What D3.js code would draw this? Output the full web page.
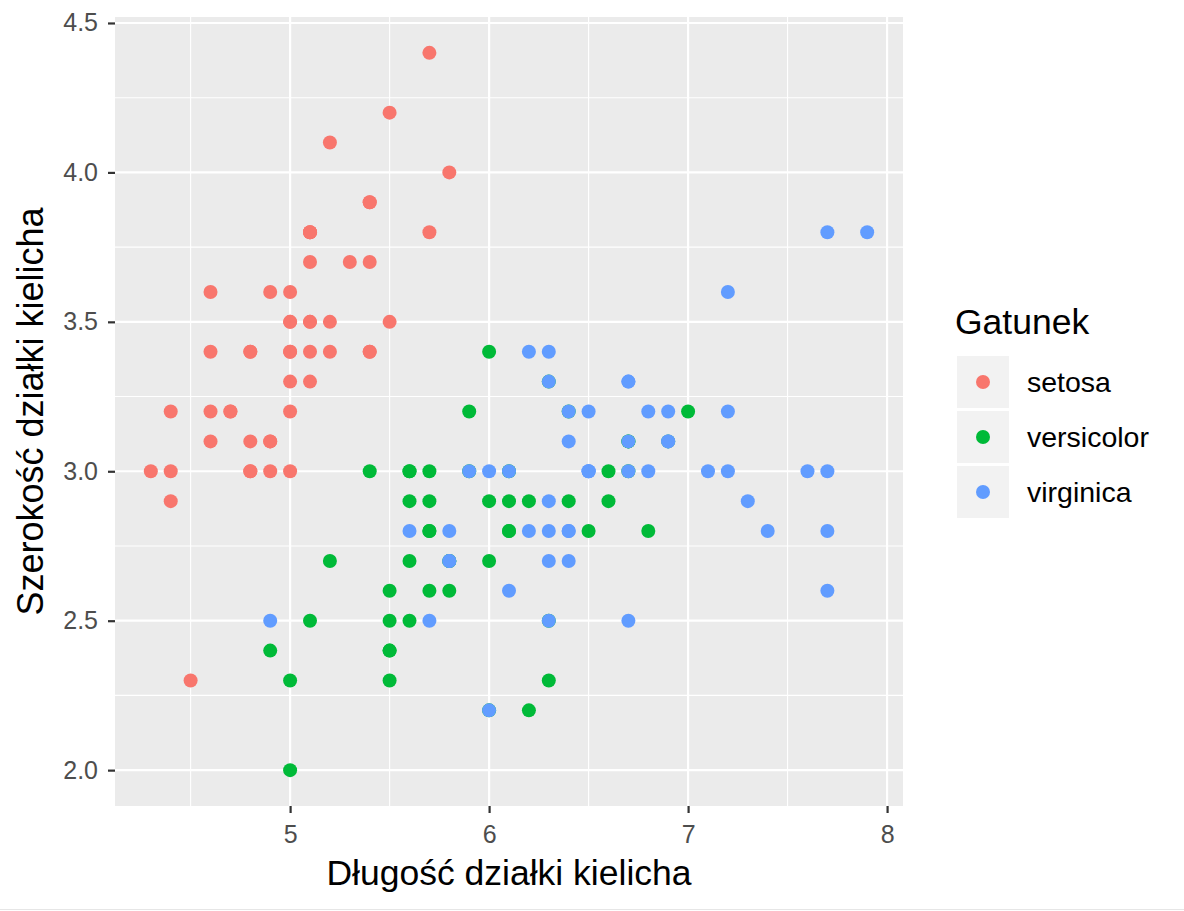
<!DOCTYPE html>
<html>
<head>
<meta charset="utf-8">
<script src="https://cdn.jsdelivr.net/npm/d3@7"></script>
<style>
  body { margin: 0; background: #fff; }
  text { font-family: "Liberation Sans", Arial, sans-serif; }
</style>
</head>
<body>
<script>
// iris: sepal length / sepal width per species
const species = ["setosa", "versicolor", "virginica"];
const colors = ["#F8766D", "#00BA38", "#619CFF"];

const setosaLength = [5.1,4.9,4.7,4.6,5.0,5.4,4.6,5.0,4.4,4.9,5.4,4.8,4.8,4.3,5.8,5.7,5.4,5.1,5.7,5.1,5.4,5.1,4.6,5.1,4.8,5.0,5.0,5.2,5.2,4.7,4.8,5.4,5.2,5.5,4.9,5.0,5.5,4.9,4.4,5.1,5.0,4.5,4.4,5.0,5.1,4.8,5.1,4.6,5.3,5.0];
const setosaWidth = [3.5,3.0,3.2,3.1,3.6,3.9,3.4,3.4,2.9,3.1,3.7,3.4,3.0,3.0,4.0,4.4,3.9,3.5,3.8,3.8,3.4,3.7,3.6,3.3,3.4,3.0,3.4,3.5,3.4,3.2,3.1,3.4,4.1,4.2,3.1,3.2,3.5,3.6,3.0,3.4,3.5,2.3,3.2,3.5,3.8,3.0,3.8,3.2,3.7,3.3];

const versicolorLength = [7.0,6.4,6.9,5.5,6.5,5.7,6.3,4.9,6.6,5.2,5.0,5.9,6.0,6.1,5.6,6.7,5.6,5.8,6.2,5.6,5.9,6.1,6.3,6.1,6.4,6.6,6.8,6.7,6.0,5.7,5.5,5.5,5.8,6.0,5.4,6.0,6.7,6.3,5.6,5.5,5.5,6.1,5.8,5.0,5.6,5.7,5.7,6.2,5.1,5.7];
const versicolorWidth = [3.2,3.2,3.1,2.3,2.8,2.8,3.3,2.4,2.9,2.7,2.0,3.0,2.2,2.9,2.9,3.1,3.0,2.7,2.2,2.5,3.2,2.8,2.5,2.8,2.9,3.0,2.8,3.0,2.9,2.6,2.4,2.4,2.7,2.7,3.0,3.4,3.1,2.3,3.0,2.5,2.6,3.0,2.6,2.3,2.7,3.0,2.9,2.9,2.5,2.8];

const virginicaLength = [6.3,5.8,7.1,6.3,6.5,7.6,4.9,7.3,6.7,7.2,6.5,6.4,6.8,5.7,5.8,6.4,6.5,7.7,7.7,6.0,6.9,5.6,7.7,6.3,6.7,7.2,6.2,6.1,6.4,7.2,7.4,7.9,6.4,6.3,6.1,7.7,6.3,6.4,6.0,6.9,6.7,6.9,5.8,6.8,6.7,6.7,6.3,6.5,6.2,5.9];
const virginicaWidth = [3.3,2.7,3.0,2.9,3.0,3.0,2.5,2.9,2.5,3.6,3.2,2.7,3.0,2.5,2.8,3.2,3.0,3.8,2.6,2.2,3.2,2.8,2.8,2.7,3.3,3.2,2.8,3.0,2.8,3.0,2.8,3.8,2.8,2.8,2.6,3.0,3.4,3.1,3.0,3.1,3.1,3.1,2.7,3.2,3.3,3.0,2.5,3.0,3.4,3.0];

const xTicks = [5, 6, 7, 8];
const xMinor = [4.5, 5.5, 6.5, 7.5];
const yTicks = [2.0, 2.5, 3.0, 3.5, 4.0, 4.5];
const yMinor = [2.25, 2.75, 3.25, 3.75, 4.25];

const xTitle = "Długość działki kielicha";
const yTitle = "Szerokość działki kielicha";
const legendTitle = "Gatunek";

const lengths = [setosaLength, versicolorLength, virginicaLength];
const widths = [setosaWidth, versicolorWidth, virginicaWidth];

let points = [];
species.forEach((s, i) => {
  lengths[i].forEach((v, j) => {
    points.push({species: s, x: v, y: widths[i][j]});
  });
});

const W = 1184, H = 911;
const panel = {left: 115, right: 903, top: 17, bottom: 806};

const svg = d3.select("body").append("svg")
  .attr("width", W)
  .attr("height", H);

const x = d3.scaleLinear().domain([4.12, 8.08]).range([panel.left, panel.right]);
const y = d3.scaleLinear().domain([1.88, 4.52]).range([panel.bottom, panel.top]);
const color = d3.scaleOrdinal().domain(species).range(colors);

// panel background
svg.append("rect")
  .attr("x", panel.left).attr("y", panel.top)
  .attr("width", panel.right - panel.left)
  .attr("height", panel.bottom - panel.top)
  .attr("fill", "#EBEBEB");

const grid = svg.append("g");
grid.selectAll(".xminor").data(xMinor).join("line")
  .attr("x1", d => x(d)).attr("x2", d => x(d))
  .attr("y1", panel.top).attr("y2", panel.bottom)
  .attr("stroke", "#fff").attr("stroke-width", 1.1);
grid.selectAll(".yminor").data(yMinor).join("line")
  .attr("y1", d => y(d)).attr("y2", d => y(d))
  .attr("x1", panel.left).attr("x2", panel.right)
  .attr("stroke", "#fff").attr("stroke-width", 1.1);
grid.selectAll(".xmajor").data(xTicks).join("line")
  .attr("x1", d => x(d)).attr("x2", d => x(d))
  .attr("y1", panel.top).attr("y2", panel.bottom)
  .attr("stroke", "#fff").attr("stroke-width", 2.2);
grid.selectAll(".ymajor").data(yTicks).join("line")
  .attr("y1", d => y(d)).attr("y2", d => y(d))
  .attr("x1", panel.left).attr("x2", panel.right)
  .attr("stroke", "#fff").attr("stroke-width", 2.2);

// points
svg.append("g").selectAll("circle")
  .data(points)
  .join("circle")
  .attr("cx", d => x(d.x))
  .attr("cy", d => y(d.y))
  .attr("r", 7)
  .attr("fill", d => color(d.species));

// axes
const xAxis = d3.axisBottom(x).tickValues(xTicks).tickFormat(d3.format("d")).tickSize(7).tickPadding(12);
const yAxis = d3.axisLeft(y).tickValues(yTicks).tickFormat(d3.format(".1f")).tickSize(7).tickPadding(10);

const gx = svg.append("g")
  .attr("transform", `translate(0, ${panel.bottom})`)
  .call(xAxis);
const gy = svg.append("g")
  .attr("transform", `translate(${panel.left}, 0)`)
  .call(yAxis);

[gx, gy].forEach(g => {
  g.select(".domain").remove();
  g.selectAll(".tick line").attr("stroke", "#333").attr("stroke-width", 2.2);
  g.selectAll(".tick text")
    .attr("fill", "#4D4D4D")
    .style("font-size", "25px")
    .style("font-family", "'Liberation Sans', Arial, sans-serif");
});

svg.append("text")
  .attr("x", (panel.left + panel.right) / 2)
  .attr("y", 885)
  .attr("text-anchor", "middle")
  .style("font-size", "35.5px")
  .attr("fill", "#000")
  .text(xTitle);

svg.append("text")
  .attr("transform", `translate(43, ${(panel.top + panel.bottom) / 2}) rotate(-90)`)
  .attr("text-anchor", "middle")
  .style("font-size", "36px")
  .attr("fill", "#000")
  .text(yTitle);

// legend
const legend = svg.append("g");
legend.append("text")
  .attr("x", 955).attr("y", 334)
  .style("font-size", "35.5px")
  .attr("fill", "#000")
  .text(legendTitle);

const keys = legend.selectAll(".key").data(species).join("g")
  .attr("transform", (d, i) => `translate(957, ${356 + i * 55})`);
keys.append("rect")
  .attr("width", 52).attr("height", 52)
  .attr("fill", "#F2F2F2");
keys.append("circle")
  .attr("cx", 26).attr("cy", 26).attr("r", 7)
  .attr("fill", d => color(d));
keys.append("text")
  .attr("x", 70).attr("y", 26)
  .attr("dy", "0.35em")
  .style("font-size", "28.5px")
  .attr("fill", "#000")
  .text(d => d);

// bottom hairline
svg.append("line")
  .attr("x1", 0).attr("x2", W)
  .attr("y1", 909.5).attr("y2", 909.5)
  .attr("stroke", "#e6e6e6");
</script>
</body>
</html>
